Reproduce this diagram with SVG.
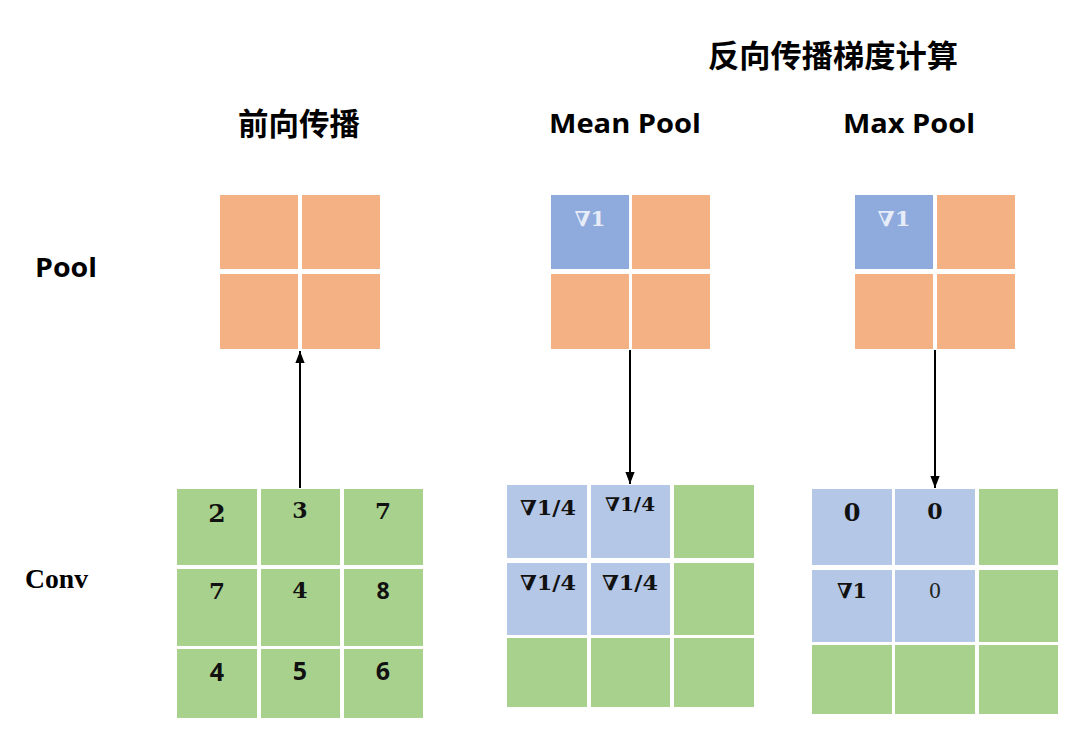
<svg xmlns="http://www.w3.org/2000/svg" width="1080" height="748" viewBox="0 0 1080 748">
<style>
.bg{fill:#ffffff}
.or{fill:#F4B183}
.bp{fill:#8FAADC}
.bl{fill:#B4C7E7}
.gr{fill:#A9D18E}
.cn{font-family:"Noto Sans CJK SC","Noto Sans",sans-serif;font-weight:bold;fill:#000}
.hd{font-family:"Open Sans","Noto Sans",sans-serif;font-weight:bold;fill:#000}
.num{font-family:"DejaVu Serif","Liberation Serif",serif;font-weight:bold;fill:#111;text-anchor:middle}
.nums{font-family:"Open Sans","Liberation Sans",sans-serif;font-weight:bold;fill:#111;text-anchor:middle}
.math{font-family:"DejaVu Serif","Liberation Serif",serif;font-weight:bold;fill:#111}
.pm{fill:#E6ECF8}
.conn{stroke:#000;stroke-width:2;fill:none}
</style>
<defs>
<marker id="ah" markerUnits="userSpaceOnUse" markerWidth="12" markerHeight="13" viewBox="0 0 13 12" refX="13" refY="6" orient="auto">
<path d="M0,1 L13,6 L0,11 z" fill="#000"/>
</marker>
</defs>
<rect class="bg" x="0" y="0" width="1080" height="748"/>

<g id="titles">
<text class="cn" x="833" y="67" font-size="31" text-anchor="middle" textLength="250" lengthAdjust="spacingAndGlyphs">反向传播梯度计算</text>
<text class="cn" x="299" y="135" font-size="31" text-anchor="middle" textLength="122" lengthAdjust="spacingAndGlyphs">前向传播</text>
<text class="hd" x="625" y="133" font-size="27" text-anchor="middle" textLength="152" lengthAdjust="spacingAndGlyphs">Mean Pool</text>
<text class="hd" x="909" y="133" font-size="27" text-anchor="middle" textLength="132" lengthAdjust="spacingAndGlyphs">Max Pool</text>
<text class="hd" x="35" y="277" font-size="27" textLength="62" lengthAdjust="spacingAndGlyphs">Pool</text>
<text x="25" y="588" font-size="28" font-family="Liberation Serif,serif" font-weight="bold" fill="#000" textLength="63" lengthAdjust="spacingAndGlyphs">Conv</text>
</g>

<g id="fwd-pool">
<rect class="or" x="220" y="195" width="78" height="74"/>
<rect class="or" x="302" y="195" width="78" height="74"/>
<rect class="or" x="220" y="274" width="78" height="75"/>
<rect class="or" x="302" y="274" width="78" height="75"/>
</g>

<g id="mean-pool">
<rect class="bp" x="551" y="195" width="78" height="74"/>
<rect class="or" x="632" y="195" width="78" height="74"/>
<rect class="or" x="551" y="274" width="78" height="75"/>
<rect class="or" x="632" y="274" width="78" height="75"/>
<text class="math pm" x="590" y="226" font-size="21" text-anchor="middle" textLength="31" lengthAdjust="spacingAndGlyphs">∇1</text>
</g>

<g id="max-pool">
<rect class="bp" x="855" y="195" width="78" height="74"/>
<rect class="or" x="937" y="195" width="78" height="74"/>
<rect class="or" x="855" y="274" width="78" height="75"/>
<rect class="or" x="937" y="274" width="78" height="75"/>
<text class="math pm" x="894" y="226" font-size="21" text-anchor="middle" textLength="33" lengthAdjust="spacingAndGlyphs">∇1</text>
</g>

<g id="fwd-conv">
<rect class="gr" x="177" y="489" width="80" height="76"/>
<rect class="gr" x="261" y="489" width="79" height="76"/>
<rect class="gr" x="344" y="489" width="79" height="76"/>
<rect class="gr" x="177" y="569" width="80" height="77"/>
<rect class="gr" x="261" y="569" width="79" height="77"/>
<rect class="gr" x="344" y="569" width="79" height="77"/>
<rect class="gr" x="177" y="649" width="80" height="69"/>
<rect class="gr" x="261" y="649" width="79" height="69"/>
<rect class="gr" x="344" y="649" width="79" height="69"/>
<text class="num" x="217" y="522" font-size="25">2</text>
<text class="num" x="300" y="518" font-size="22">3</text>
<text class="num" x="383" y="519" font-size="23">7</text>
<text class="num" x="217" y="599" font-size="23">7</text>
<text class="num" x="300" y="598" font-size="22">4</text>
<text class="nums" x="383" y="599" font-size="23">8</text>
<text class="nums" x="217" y="681" font-size="25">4</text>
<text class="nums" x="300" y="680" font-size="25">5</text>
<text class="nums" x="383" y="680" font-size="25">6</text>
</g>

<g id="mean-conv">
<rect class="bl" x="507" y="485" width="80" height="73"/>
<rect class="bl" x="591" y="485" width="79" height="73"/>
<rect class="gr" x="674" y="485" width="80" height="73"/>
<rect class="bl" x="507" y="563" width="80" height="72"/>
<rect class="bl" x="591" y="563" width="79" height="72"/>
<rect class="gr" x="674" y="563" width="80" height="72"/>
<rect class="gr" x="507" y="638" width="80" height="69"/>
<rect class="gr" x="591" y="638" width="79" height="69"/>
<rect class="gr" x="674" y="638" width="80" height="69"/>
<text class="math" x="548" y="515" font-size="21" text-anchor="middle" textLength="56" lengthAdjust="spacingAndGlyphs">∇1/4</text>
<text class="math" x="630" y="511" font-size="19" text-anchor="middle" textLength="50" lengthAdjust="spacingAndGlyphs">∇1/4</text>
<text class="math" x="548" y="590" font-size="21" text-anchor="middle" textLength="56" lengthAdjust="spacingAndGlyphs">∇1/4</text>
<text class="math" x="630" y="590" font-size="21" text-anchor="middle" textLength="56" lengthAdjust="spacingAndGlyphs">∇1/4</text>
</g>

<g id="max-conv">
<rect class="bl" x="812" y="489" width="80" height="76"/>
<rect class="bl" x="895" y="489" width="80" height="76"/>
<rect class="gr" x="979" y="489" width="79" height="76"/>
<rect class="bl" x="812" y="570" width="80" height="72"/>
<rect class="bl" x="895" y="570" width="80" height="72"/>
<rect class="gr" x="979" y="570" width="79" height="72"/>
<rect class="gr" x="812" y="645" width="80" height="69"/>
<rect class="gr" x="895" y="645" width="80" height="69"/>
<rect class="gr" x="979" y="645" width="79" height="69"/>
<text class="num" x="852" y="521" font-size="24">0</text>
<text class="num" x="935" y="519" font-size="22">0</text>
<text class="math" x="852" y="598" font-size="21" text-anchor="middle" textLength="30" lengthAdjust="spacingAndGlyphs">∇1</text>
<text x="935" y="598" font-size="23" font-family="Liberation Serif,serif" fill="#222" text-anchor="middle">0</text>
</g>

<g id="connectors">
<line class="conn" x1="300" y1="488" x2="300" y2="351" marker-end="url(#ah)"/>
<line class="conn" x1="630" y1="350" x2="630" y2="484" marker-end="url(#ah)"/>
<line class="conn" x1="935" y1="350" x2="935" y2="488" marker-end="url(#ah)"/>
</g>
</svg>
